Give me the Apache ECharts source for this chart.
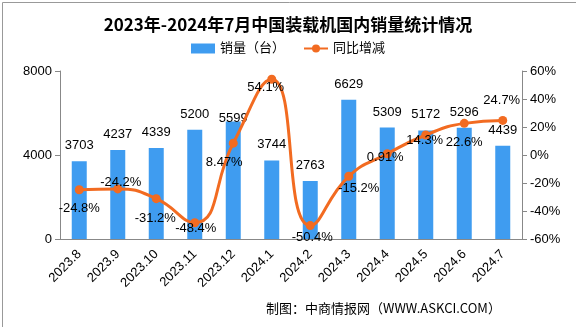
<!DOCTYPE html>
<html><head><meta charset="utf-8">
<script src="https://cdn.jsdelivr.net/npm/echarts@6/dist/echarts.min.js"></script>
<style>html,body{margin:0;padding:0;background:#fff}#c{width:576px;height:327px}</style>
</head><body><div id="c"></div>
<script>
const categories = ['2023.8','2023.9','2023.10','2023.11','2023.12','2024.1','2024.2','2024.3','2024.4','2024.5','2024.6','2024.7'];
const sales = [3703,4237,4339,5200,5599,3744,2763,6629,5309,5172,5296,4439];
const yoy = [-24.8,-24.2,-31.2,-48.4,8.47,54.1,-50.4,-15.2,0.91,14.3,22.6,24.7];
const yoyLabels = ['-24.8%','-24.2%','-31.2%','-48.4%','8.47%','54.1%','-50.4%','-15.2%','0.91%','14.3%','22.6%','24.7%'];
const leftTicks = [0,4000,8000];
const rightTicks = [-60,-40,-20,0,20,40,60];

const F = '"Liberation Sans","Noto Sans CJK SC",sans-serif';
const lineOffsets = [[0,19],[3,-6],[-1,20],[1,6],[-9,19],[-6,8],[2,12],[10,12],[-2,4],[-1,5],[0,19],[-1,-20]];
const barOffsets = sales.map((v,i)=> i===4 ? [0,13] : [0,0]);

const chart = echarts.init(document.getElementById('c'));
chart.setOption({
  animation:false,
  title:{text:'2023年-2024年7月中国装载机国内销量统计情况',left:'center',top:11,
    textStyle:{fontFamily:'"Noto Sans CJK SC",sans-serif',fontSize:17,fontWeight:'bold',color:'#000'}},
  legend:{top:37,left:'center',itemGap:18,itemWidth:24,itemHeight:10,
    textStyle:{fontFamily:F,fontSize:13,color:'#000'},
    data:[{name:'销量（台）',icon:'rect'},{name:'同比增减'}]},
  grid:{left:60,right:54,top:71,bottom:88},
  xAxis:{type:'category',data:categories,
    axisLine:{lineStyle:{color:'#888'}},axisTick:{lineStyle:{color:'#888'},length:5},
    axisLabel:{rotate:45,fontFamily:F,fontSize:13,color:'#000',margin:13,interval:0}},
  yAxis:[
    {type:'value',min:leftTicks[0],max:leftTicks[leftTicks.length-1],interval:4000,
     splitLine:{show:false},axisLine:{show:true,lineStyle:{color:'#888'}},
     axisTick:{show:true,length:5,lineStyle:{color:'#888'}},
     axisLabel:{fontFamily:F,fontSize:13,color:'#000',margin:8,formatter:v=>String(v)}},
    {type:'value',min:rightTicks[0],max:rightTicks[rightTicks.length-1],interval:20,
     splitLine:{show:false},axisLine:{show:true,lineStyle:{color:'#888'}},
     axisTick:{show:true,length:5,lineStyle:{color:'#888'}},
     axisLabel:{fontFamily:F,fontSize:13,color:'#000',margin:8,formatter:'{value}%'}}
  ],
  series:[
    {name:'销量（台）',type:'bar',barWidth:15,itemStyle:{color:'#3F9CF0'},
     data:sales.map((v,i)=>({value:v,label:{offset:barOffsets[i]}})),
     label:{show:true,position:'top',distance:9,fontFamily:F,fontSize:13,color:'#000'}},
    {name:'同比增减',type:'line',yAxisIndex:1,smooth:0.5,symbol:'circle',symbolSize:9,
     lineStyle:{color:'#F26B21',width:3},itemStyle:{color:'#F26B21'},
     data:yoy.map((v,i)=>({value:v,label:{offset:lineOffsets[i],formatter:yoyLabels[i]}})),
     label:{show:true,position:'inside',fontFamily:F,fontSize:13,color:'#000'},z:5}
  ],
  graphic:[
    {type:'text',left:266,top:302,style:{text:'制图：中商情报网（WWW.ASKCI.COM）',font:'13px "Noto Sans CJK SC",sans-serif',fill:'#000'}},
    {type:'rect',left:0,top:0,shape:{width:575,height:326},style:{fill:'none',stroke:'#999',lineWidth:1},silent:true}
  ]
});
</script></body></html>
